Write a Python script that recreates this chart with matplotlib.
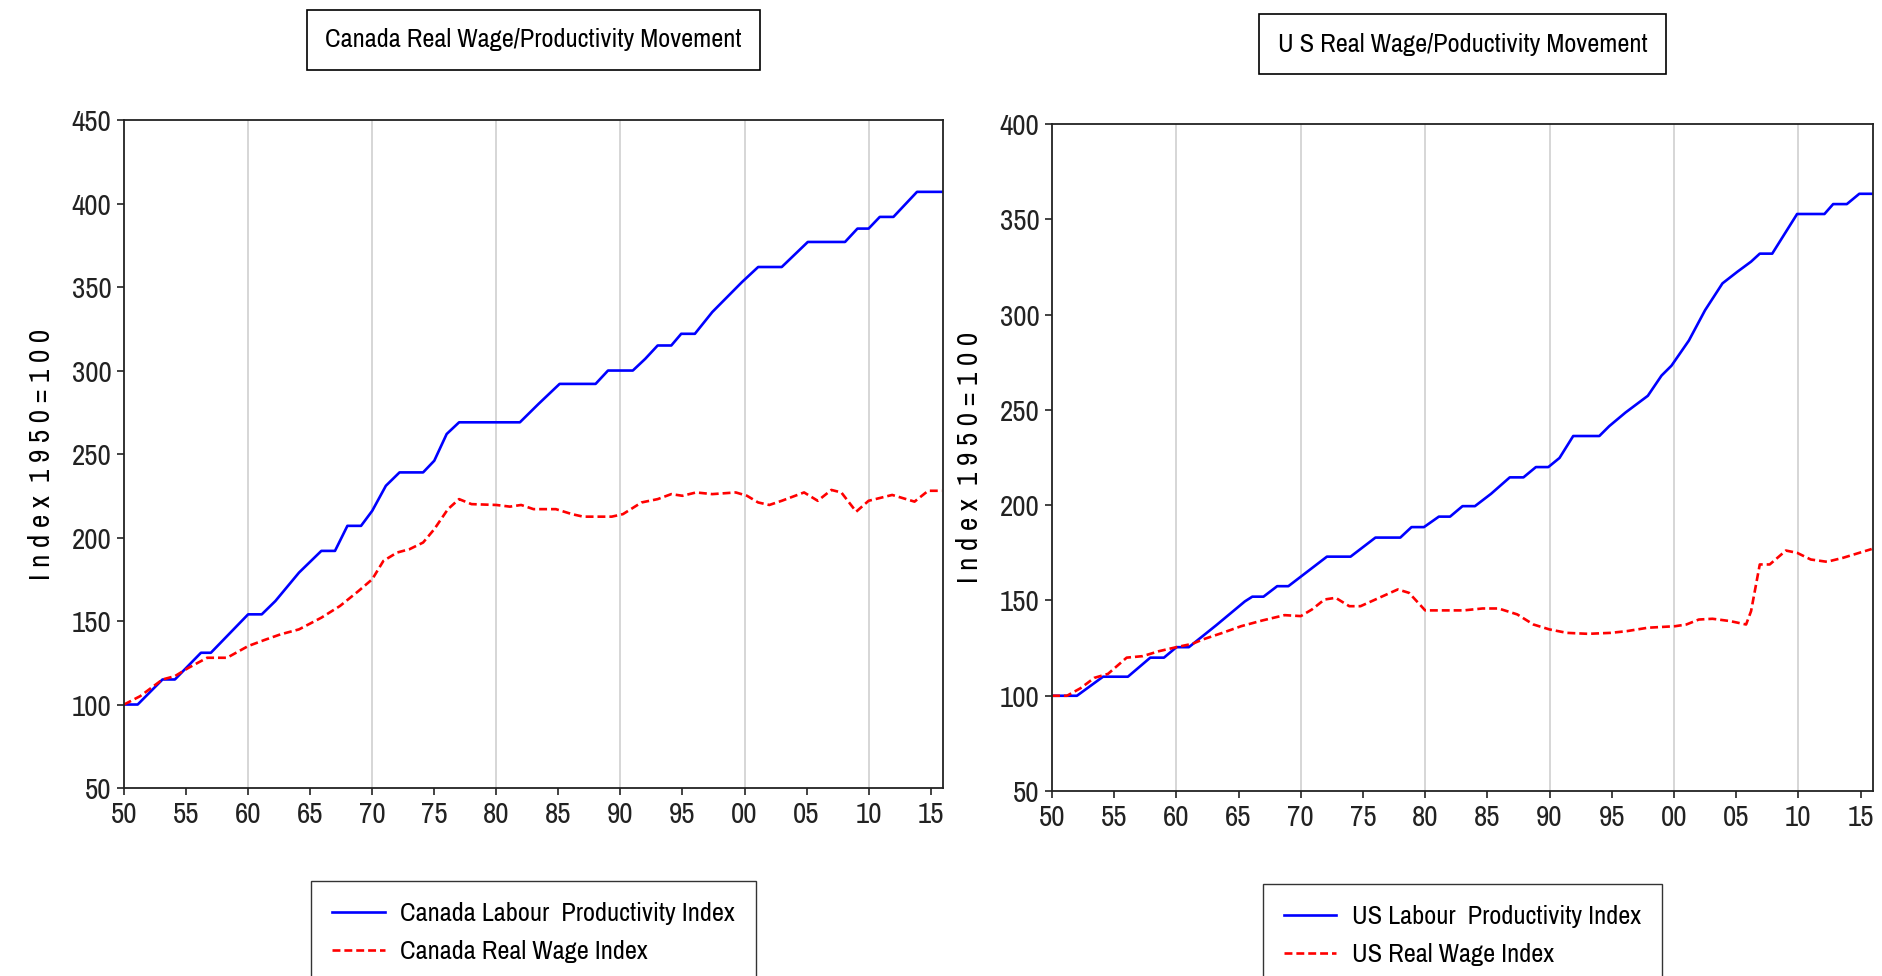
import numpy as np
import matplotlib
matplotlib.use('Agg')
import matplotlib.pyplot as plt
from matplotlib import font_manager

# EViews-style narrow font, take the first one that exists
names = set(f.name for f in font_manager.fontManager.ttflist)
FONT = 'Liberation Sans'
for cand in ['Liberation Sans Narrow', 'Arial Narrow', 'Archivo Narrow', 'Roboto Condensed']:
    if cand in names:
        FONT = cand
        break
plt.rcParams['font.family'] = [FONT, 'DejaVu Sans']

# Canada labour productivity index
ca_prod_year = [1950, 1951.1, 1953.1, 1954.1, 1956.2, 1957, 1960, 1961.1, 1962.2, 1964.1, 1965.9, 1967,
                1968, 1969.1, 1970, 1971.1, 1972.2, 1974.1, 1975, 1976, 1977, 1981.9, 1983.4, 1985.1,
                1988, 1989, 1991, 1992, 1993, 1994.1, 1994.9, 1996, 1997.4, 1999.8, 2001.1, 2003,
                2005.1, 2008.1, 2009.1, 2010, 2010.9, 2012, 2013.9, 2015.9]
ca_prod = [100, 100, 115, 115, 131, 131, 154, 154, 162, 179, 192, 192,
           207, 207, 216, 231, 239, 239, 246, 262, 269, 269, 280, 292,
           292, 300, 300, 307, 315, 315, 322, 322, 335, 353, 362, 362,
           377, 377, 385, 385, 392, 392, 407, 407]

# Canada real wage index
ca_wage_year = [1950, 1951.3, 1953.1, 1954.1, 1955.2, 1956.7, 1958.3, 1960, 1961.3, 1962.6, 1964.1, 1965.9,
                1967.4, 1968.9, 1970, 1970.9, 1972, 1973, 1974.1, 1975, 1976.1, 1977, 1978, 1980,
                1981.1, 1982, 1983, 1984.8, 1986.1, 1987, 1989.3, 1990.2, 1991.7, 1993, 1994.1, 1995,
                1996.1, 1997.4, 1999.3, 2000.2, 2001.1, 2002, 2003, 2004.8, 2005.9, 2007, 2007.8, 2009,
                2010, 2011.9, 2013.7, 2014.8, 2015.9]
ca_wage = [100, 105, 115, 117, 122, 128, 128, 135, 138.6, 142, 145, 152,
           159, 168, 175, 186, 191, 193, 197, 205, 217, 223, 220, 219.5,
           218.5, 219.5, 217, 217, 214, 212.5, 212.5, 214, 221, 223, 226, 225,
           227, 226, 227, 225, 221, 219.5, 222, 227, 222, 228.5, 227, 215.5,
           222, 225.5, 221.5, 228, 228]

# US labour productivity index
us_prod_year = [1950, 1952, 1954.1, 1956.1, 1957.9, 1959, 1960, 1961, 1963.2, 1965.5, 1966.1, 1967,
                1968.1, 1969, 1970.9, 1972.1, 1974, 1976, 1978, 1978.9, 1979.9, 1981.1, 1982, 1983,
                1984, 1985.3, 1986.8, 1987.9, 1988.9, 1989.9, 1990.8, 1991.9, 1994, 1994.8, 1996.1,
                1997.9, 1999, 1999.8, 2001.2, 2002.5, 2003.9, 2005.1, 2006.2, 2006.9, 2007.9, 2009.9,
                2012.1, 2012.8, 2013.9, 2014.9, 2015.9]
us_prod = [100, 100, 110, 110, 120, 120, 125.5, 125.5, 137, 149.5, 152, 152,
           157.5, 157.5, 167, 173, 173, 183, 183, 188.5, 188.5, 194, 194, 199.5,
           199.5, 206, 214.6, 214.6, 220, 220, 224.8, 236.3, 236.3, 241.5, 248.6,
           257.4, 268, 273.2, 286.4, 302.3, 316.4, 322.5, 327.8, 332, 332, 352.8,
           352.8, 358, 358, 363.4, 363.4]

# US real wage index
us_wage_year = [1950, 1951.2, 1952.3, 1953.4, 1954.5, 1956, 1957.3, 1958.6, 1960, 1961.3, 1962.1, 1963.7,
                1965.2, 1966.9, 1968.7, 1970, 1970.9, 1971.9, 1972.8, 1973.9, 1974.8, 1976.3, 1977.8,
                1978.7, 1980, 1983.1, 1984.6, 1985.9, 1987.4, 1988.7, 1990, 1991.4, 1993.1, 1994.9,
                1996.2, 1997.9, 2000.1, 2001, 2002, 2003.1, 2004.5, 2005.8, 2006.2, 2006.9, 2007.7,
                2009, 2009.9, 2011, 2012.3, 2013.6, 2015.9]
us_wage = [100, 100, 104, 109.4, 111.5, 120, 120.8, 123.4, 125.5, 127.3, 129.5, 133,
           136.5, 139.5, 142.3, 141.8, 145.3, 150.5, 151.4, 147, 147, 151.4, 155.8,
           154, 144.8, 144.8, 145.8, 145.8, 142.7, 137.4, 134.8, 133, 132.5, 133,
           133.9, 135.7, 136.5, 137.4, 140, 140.4, 139.2, 137.4, 144.4, 168.9, 168.9,
           176.2, 175, 171.5, 170.3, 172.4, 177]

tick_years = list(range(1950, 2016, 5))
tick_labels = ['%02d' % (y % 100) for y in tick_years]
grid_years = list(range(1960, 2011, 10))

fig = plt.figure(figsize=(18.82, 9.76), dpi=100)
ax1 = fig.add_axes([0.0659, 0.1926, 0.4352, 0.6844])
ax2 = fig.add_axes([0.559, 0.1895, 0.4362, 0.6834])

panels = [
    (ax1, ca_prod_year, ca_prod, ca_wage_year, ca_wage, (50, 450), 'Canada Real Wage/Productivity Movement',
     ['Canada Labour  Productivity Index', 'Canada Real Wage Index']),
    (ax2, us_prod_year, us_prod, us_wage_year, us_wage, (50, 400), 'U S Real Wage/Poductivity Movement',
     ['US Labour  Productivity Index', 'US Real Wage Index']),
]

for ax, px, py, wx, wy, ylim, title, labels in panels:
    for g in grid_years:
        ax.axvline(g, color='#cfcfcf', lw=1.2, zorder=0)
    l1, = ax.plot(px, py, color='#0000ff', lw=1.9)
    l2, = ax.plot(wx, wy, color='#ff0000', lw=1.9, dashes=(3, 1.5))
    ax.set_xlim(1950, 2016)
    ax.set_ylim(*ylim)
    ax.set_yticks(range(ylim[0], ylim[1] + 1, 50))
    ax.set_xticks(tick_years)
    ax.set_xticklabels(tick_labels)
    ax.tick_params(direction='out', length=5, width=1.2, labelsize=21, colors='#222222', pad=4)
    for s in ax.spines.values():
        s.set_linewidth(1.3)
        s.set_color('#222222')
    ax.set_ylabel('I n d e x  1 9 5 0 = 1 0 0', fontsize=21, labelpad=12)
    ax.text(0.50, 1.12, title, transform=ax.transAxes, ha='center', va='center', fontsize=19,
            bbox=dict(boxstyle='square,pad=0.7', fc='white', ec='black', lw=1.2))
    ax.legend([l1, l2], labels, loc='upper center', bbox_to_anchor=(0.5, -0.12), fontsize=19,
              frameon=True, fancybox=False, edgecolor='black', borderpad=0.8, handlelength=2.0,
              handletextpad=0.6, labelspacing=0.55)

fig.savefig('out.png', dpi=100)
